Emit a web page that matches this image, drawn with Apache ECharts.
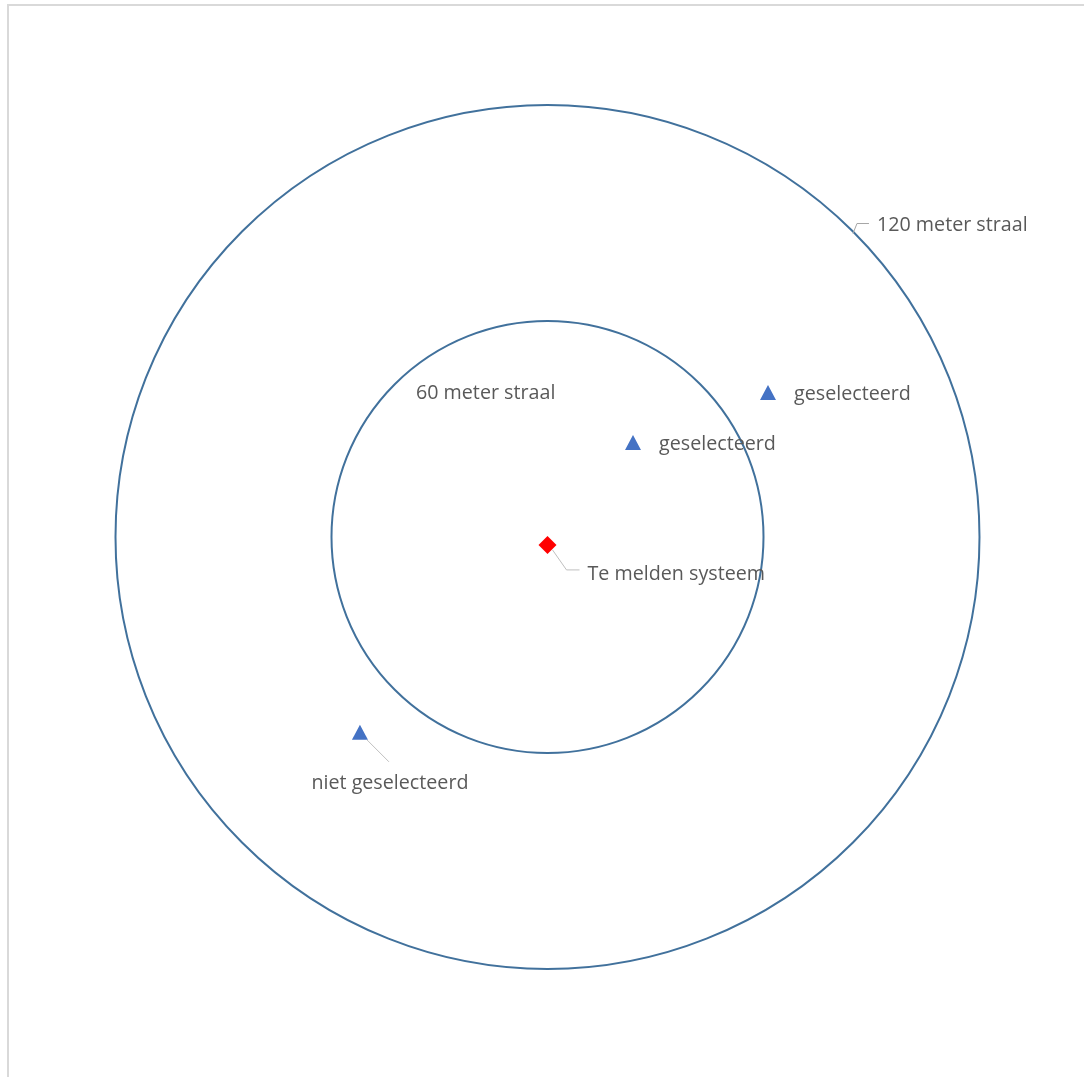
<!DOCTYPE html>
<html>
<head>
<meta charset="utf-8">
<script src="https://cdn.jsdelivr.net/npm/echarts@6/dist/echarts.min.js"></script>
<style>
html,body{margin:0;padding:0;background:#fff;}
#chart{width:1084px;height:1077px;}
</style>
</head>
<body>
<div id="chart"></div>
<script>
// Circle radii (meter) and labels
const circleRadii = [60, 120];
const circleLabels = ['60 meter straal', '120 meter straal'];

// Neighbouring systems (meter from centre)
const pointX = [61.25, 23.75, -52.1];
const pointY = [40.0, 26.1, -54.4];
const pointLabels = ['geselecteerd', 'geselecteerd', 'niet geselecteerd'];

// System to be reported
const systemX = [0];
const systemY = [-2.2];
const systemLabels = ['Te melden systeem'];

const FONT = '"Open Sans", sans-serif';
const TXT = '#595959';
const FS = 19.7;

const chart = echarts.init(document.getElementById('chart'));

const circleData = circleRadii.map((r, i) => [0, 0, r, i]);
const pointData = pointX.map((x, i) => [x, pointY[i], i]);
const systemData = systemX.map((x, i) => [x, systemY[i], i]);

chart.setOption({
  animation: false,
  backgroundColor: '#fff',
  graphic: [{
    type: 'polyline', silent: true,
    shape: { points: [[8, 1100], [8, 5], [1090, 5]] },
    style: { fill: 'none', stroke: '#d9d9d9', lineWidth: 2 }
  }],
  grid: { left: 43.5, top: 33, width: 1008, height: 1008 },
  xAxis: { type: 'value', min: -140, max: 140, show: false },
  yAxis: { type: 'value', min: -140, max: 140, show: false },
  series: [
    {
      type: 'custom',
      coordinateSystem: 'cartesian2d',
      data: circleData,
      z: 1,
      renderItem: function (params, api) {
        const c = api.coord([api.value(0), api.value(1)]);
        const r = api.size([api.value(2), 0])[0];
        const idx = api.value(3);
        const children = [{
          type: 'circle',
          shape: { cx: c[0], cy: c[1], r: r },
          style: { fill: 'none', stroke: '#41719c', lineWidth: 2 }
        }];
        if (idx === 0) {
          children.push({
            type: 'text',
            style: {
              x: c[0] - 0.609 * r, y: c[1] - 0.667 * r,
              text: circleLabels[idx], fill: TXT, font: FS + 'px ' + FONT,
              textAlign: 'left', textVerticalAlign: 'middle'
            }
          });
        } else {
          const a = Math.PI / 4;
          const px = c[0] + r * Math.cos(a), py = c[1] - r * Math.sin(a);
          children.push({
            type: 'polyline',
            shape: { points: [[px, py + 2], [px + 4, py - 8], [px + 16, py - 8]] },
            style: { fill: 'none', stroke: '#a6a6a6', lineWidth: 1 }
          });
          children.push({
            type: 'text',
            style: {
              x: px + 24, y: py - 6,
              text: circleLabels[idx], fill: TXT, font: FS + 'px ' + FONT,
              textAlign: 'left', textVerticalAlign: 'middle'
            }
          });
        }
        return { type: 'group', children: children };
      }
    },
    {
      type: 'custom',
      coordinateSystem: 'cartesian2d',
      data: pointData,
      z: 3,
      renderItem: function (params, api) {
        const p = api.coord([api.value(0), api.value(1)]);
        const idx = api.value(2);
        const children = [{
          type: 'polygon',
          shape: { points: [[p[0], p[1] - 8], [p[0] + 8, p[1] + 7], [p[0] - 8, p[1] + 7]] },
          style: { fill: '#4472c4' }
        }];
        if (idx < 2) {
          children.push({
            type: 'text',
            style: {
              x: p[0] + 26, y: p[1] + 1,
              text: pointLabels[idx], fill: TXT, font: FS + 'px ' + FONT,
              textAlign: 'left', textVerticalAlign: 'middle'
            }
          });
        } else {
          children.push({
            type: 'line',
            shape: { x1: p[0] + 7, y1: p[1] + 7, x2: p[0] + 29, y2: p[1] + 29 },
            style: { stroke: '#bfbfbf', lineWidth: 1 }
          });
          children.push({
            type: 'text',
            style: {
              x: p[0] + 30, y: p[1] + 51,
              text: pointLabels[idx], fill: TXT, font: FS + 'px ' + FONT,
              textAlign: 'center', textVerticalAlign: 'middle'
            }
          });
        }
        return { type: 'group', children: children };
      }
    },
    {
      type: 'custom',
      coordinateSystem: 'cartesian2d',
      data: systemData,
      z: 4,
      renderItem: function (params, api) {
        const p = api.coord([api.value(0), api.value(1)]);
        const idx = api.value(2);
        return {
          type: 'group',
          children: [
            {
              type: 'polyline',
              shape: { points: [[p[0] + 5, p[1] + 5], [p[0] + 19, p[1] + 25], [p[0] + 32, p[1] + 25]] },
              style: { fill: 'none', stroke: '#bfbfbf', lineWidth: 1 }
            },
            {
              type: 'polygon',
              shape: { points: [[p[0], p[1] - 9], [p[0] + 9, p[1]], [p[0], p[1] + 9], [p[0] - 9, p[1]]] },
              style: { fill: '#ff0000' }
            },
            {
              type: 'text',
              style: {
                x: p[0] + 40, y: p[1] + 29,
                text: systemLabels[idx], fill: TXT, font: FS + 'px ' + FONT,
                textAlign: 'left', textVerticalAlign: 'middle'
              }
            }
          ]
        };
      }
    }
  ]
});
</script>
</body>
</html>
